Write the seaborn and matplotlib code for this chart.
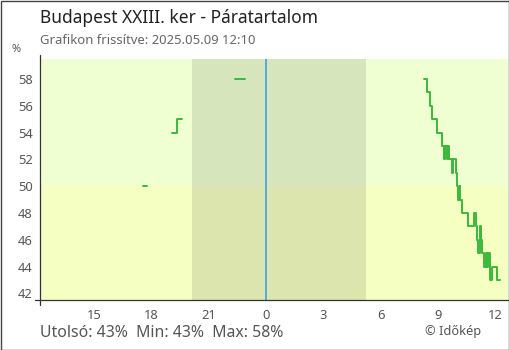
import numpy as np
import pandas as pd
import matplotlib
matplotlib.use("Agg")
import matplotlib.pyplot as plt
import seaborn as sns
from matplotlib.patches import Rectangle

# ---- data (hours relative to midnight, humidity %) ----
hours_1 = [-6.45, -6.22]
vals_1 = [50, 50]
hours_2 = [-4.92, -4.68, -4.40]
vals_2 = [54, 55, 55]
hours_3 = [-1.62, -1.10]
vals_3 = [58, 58]
hours_4 = [8.27, 8.39, 8.59, 8.69, 8.92, 9.18, 9.28, 9.36, 9.44, 9.50, 9.56,
           9.70, 9.76, 9.92, 10.00, 10.06, 10.12, 10.16, 10.25, 10.40, 10.54,
           10.86, 10.96, 11.04, 11.10, 11.16, 11.22, 11.30, 11.38, 11.48,
           11.55, 11.62, 11.70, 11.82, 11.90, 12.05, 12.10, 12.22]
vals_4 = [58, 57, 56, 55, 54, 53, 52, 53, 52, 53, 52,
          51, 52, 51, 50, 49, 50, 49, 48, 48, 47,
          48, 47, 46, 45, 47, 46, 45, 44, 45,
          44, 45, 43, 44, 44, 43, 43, 43]

x_ticks = [-9, -6, -3, 0, 3, 6, 9, 12]
x_tick_labels = ["15", "18", "21", "0", "3", "6", "9", "12"]
y_ticks = [42, 44, 46, 48, 50, 52, 54, 56, 58]
night_start, night_end = -3.87, 5.24
x_min, x_max = -11.83, 12.65
y_min, y_max = 41.5, 59.5

title = "Budapest XXIII. ker - Páratartalom"
subtitle = "Grafikon frissítve: 2025.05.09 12:10"
footer = "Utolsó: 43%  Min: 43%  Max: 58%"
credit = "© Időkép"

frames = []
for sid, (h, v) in enumerate([(hours_1, vals_1), (hours_2, vals_2),
                              (hours_3, vals_3), (hours_4, vals_4)]):
    frames.append(pd.DataFrame({"hour": h, "value": v, "seg": sid}))
df = pd.concat(frames, ignore_index=True)

sns.set_style("white")
plt.rcParams["font.family"] = ["Noto Sans", "DejaVu Sans"]

W, H = 510, 350
fig = plt.figure(figsize=(W / 100, H / 100), dpi=100)
L, R, T, B = 40, 508, 59, 300
ax = fig.add_axes([L / W, 1 - B / H, (R - L) / W, (B - T) / H])

ax.set_xlim(x_min, x_max)
ax.set_ylim(y_min, y_max)
ax.axhspan(50, y_max, color="#f0ffd2", lw=0, zorder=0)
ax.axhspan(y_min, 50, color="#f5ffc2", lw=0, zorder=0)
ax.axvspan(night_start, night_end, color="#000000", alpha=0.10, lw=0, zorder=0.5)
ax.axvline(0, color="#3399ee", lw=1.1, zorder=1)

sns.lineplot(data=df, x="hour", y="value", units="seg", estimator=None,
             color="#3cb83c", lw=1.4, drawstyle="steps-post", ax=ax,
             legend=False, zorder=3)

ax.set_xlabel("")
ax.set_ylabel("")
ax.set_xticks(x_ticks)
ax.set_xticklabels(x_tick_labels)
ax.set_yticks(y_ticks)
for s in ["top", "right", "left", "bottom"]:
    ax.spines[s].set_visible(False)
ax.tick_params(axis="both", direction="inout", length=8.5, width=0.9,
               color="#333333", labelcolor="#555555", labelsize=9.3)
ax.tick_params(axis="x", pad=2)
ax.tick_params(axis="y", pad=1)

# axis lines extended a little beyond the plot area
ax.plot([0, 0], [-0.022, 1.017], transform=ax.transAxes, color="#333333",
        lw=0.9, clip_on=False, zorder=5)
ax.plot([-0.011, 1.0], [0, 0], transform=ax.transAxes, color="#333333",
        lw=0.9, clip_on=False, zorder=5)

fig.text(40 / W, 1 - 18 / H, title, fontsize=12.5, color="#222222", va="center")
fig.text(40 / W, 1 - 41 / H, subtitle, fontsize=9.4, color="#666666", va="center")
fig.text(16 / W, 1 - 50 / H, "%", fontsize=8, color="#555555", va="center", ha="center")
fig.text(40 / W, 1 - 333 / H, footer, fontsize=11.4, color="#555555", va="center")
fig.text(453 / W, 1 - 331 / H, credit, fontsize=9.2, color="#555555", va="center", ha="center")

fig.patches.append(Rectangle((0.5 / W, 0.5 / H), 1 - 1 / W, 1 - 1 / H,
                             transform=fig.transFigure, fill=False,
                             edgecolor="#444444", lw=1.0))

fig.savefig("out.png", dpi=100)
